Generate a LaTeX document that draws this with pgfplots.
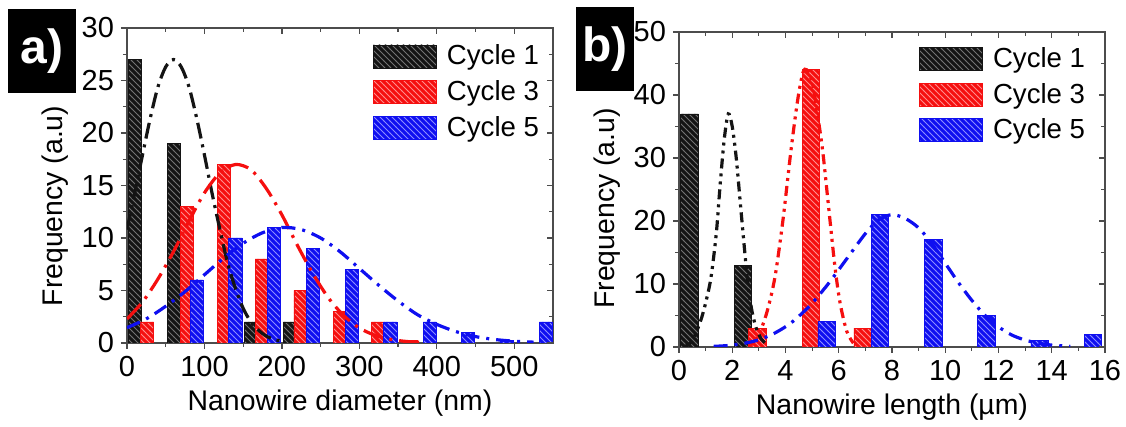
\documentclass[border=0pt]{standalone}
\usepackage{fontspec}
\setmainfont{Liberation Sans}
\usepackage{pgfplots}
\pgfplotsset{compat=1.18}
\usetikzlibrary{patterns}
\definecolor{cred}{RGB}{245,15,15}
\definecolor{cblue}{RGB}{15,15,240}
\definecolor{cblack}{RGB}{20,20,20}
\pgfplotsset{
 patchleg/.style={legend image code/.code={\draw[##1] (0pt,-5.75pt) rectangle (31.5pt,5.75pt);}},
 panel/.style={
  scale only axis, width=213pt, height=157.5pt,
  axis line style={black!70, line width=0.7pt},
  tick style={black!70, line width=0.6pt},
  major tick length=3pt, minor tick length=2pt,
  tick align=outside,
  xtick pos=left, ytick pos=left,
  /pgf/number format/assume math mode=true,
  ticklabel style={font=\fontsize{14.5}{15}\selectfont},
  label style={font=\fontsize{14.2}{15}\selectfont},
  ymin=0, xmin=0,
  minor x tick num=1, minor y tick num=1,
  legend style={draw=none, fill=none, font=\fontsize{13.8}{14}\selectfont, inner sep=0pt, row sep=2.3pt, column sep=3pt, anchor=north west},
  legend cell align=left,
 },
 mirror/.style={
  scale only axis, width=213pt, height=157.5pt,
  axis line style={draw=none},
  tick style={black!70, line width=0.6pt},
  major tick length=3pt, minor tick length=2pt,
  tick align=inside,
  xtick pos=right, ytick pos=right,
  xticklabels={}, yticklabels={},
  ymin=0, xmin=0,
  minor x tick num=1, minor y tick num=1,
 },
 bk/.style={ybar, bar width=#1, bar shift=0pt, draw=cblack, fill=cblack, postaction={pattern=north west lines, pattern color=black!55}, patchleg},
 rd/.style={ybar, bar width=#1, bar shift=0pt, draw=cred, fill=cred, postaction={pattern=north west lines, pattern color=red!45!white}, patchleg},
 bl/.style={ybar, bar width=#1, bar shift=0pt, draw=cblue, fill=cblue, postaction={pattern=north west lines, pattern color=blue!45!white}, patchleg},
}
\begin{document}
\begin{tikzpicture}
\path[use as bounding box] (0,0) rectangle (563pt,213.5pt);
% ---------- panel a ----------
\begin{axis}[panel, at={(63.5pt,42pt)}, anchor=south west,
  xmax=550, ymax=30, xtick={0,100,...,500}, ytick={0,5,...,30},
  xlabel={Nanowire diameter (nm)}, ylabel={Frequency (a.u)},
  ylabel style={at={(ticklabel cs:0.435)}},
  legend style={at={(rel axis cs:0.577,0.96)}}]
\addplot[bk=17] coordinates {(10,27) (61,19) (160,2) (210,2)};
\addlegendentry{Cycle 1}
\addplot[rd=17] coordinates {(26,2) (77,13) (125,17) (174,8) (224,5) (275,3) (324,2) (367,0.25)};
\addlegendentry{Cycle 3}
\addplot[bl=17] coordinates {(90,6) (140,10) (190,11) (240,9) (290,7) (340,2) (391,2) (440,1) (490,0.2) (541,2)};
\addlegendentry{Cycle 5}
\addplot[forget plot, smooth, cblack, line width=1.6pt, dash pattern=on 8pt off 3pt on 1.5pt off 3pt] coordinates {
(0,10.8) (10,14.3) (20,17.9) (30,21.4) (40,24.4) (50,26.3) (60,27) (70,26.3) (80,24.4) (90,21.4) (100,17.9) (110,14.2) (120,10.8) (130,7.6) (140,5.2) (150,3.3) (160,2.0) (170,1.2) (180,0.65) (190,0.34) (200,0.17)};
\addplot[forget plot, smooth, cred, line width=1.6pt, dash pattern=on 10pt off 3.5pt on 1.5pt off 3.5pt] coordinates {
(0,2.3) (20,3.9) (40,6.1) (60,8.7) (80,11.6) (100,14.3) (120,16.2) (140,17.0) (160,16.5) (180,14.7) (200,12.2) (220,9.3) (240,6.6) (260,4.3) (280,2.6) (300,1.43) (320,0.74) (340,0.35) (360,0.15) (380,0.06)};
\addplot[forget plot, smooth, cblue, line width=1.6pt, dash pattern=on 7pt off 3.5pt on 1.5pt off 3.5pt] coordinates {
(0,1.46) (25,2.3) (50,3.5) (75,4.9) (100,6.5) (125,8.1) (150,9.5) (175,10.5) (200,11.0) (225,10.8) (250,10.0) (275,8.7) (300,7.1) (325,5.5) (350,4.0) (375,2.7) (400,1.77) (425,1.08) (450,0.61) (475,0.33) (500,0.17) (525,0.08)};
\end{axis}
\begin{axis}[mirror, at={(63.5pt,42pt)}, anchor=south west,
  xmax=550, ymax=30, xtick={0,100,...,500}, ytick={0,5,...,30}]
\addplot[draw=none] coordinates {(0,0)};
\end{axis}
% ---------- panel b ----------
\begin{axis}[panel, at={(339.5pt,40pt)}, anchor=south west,
  xmax=16, ymax=50, xtick={0,2,...,16}, ytick={0,10,...,50},
  xlabel={Nanowire length (µm)}, ylabel={Frequency (a.u)},
  ylabel style={at={(ticklabel cs:0.44)}},
  legend style={at={(rel axis cs:0.563,0.965)}}]
\addplot[bk=0.66] coordinates {(0.4,37) (2.4,13)};
\addlegendentry{Cycle 1}
\addplot[rd=0.66] coordinates {(2.95,3) (4.95,44) (6.9,3)};
\addlegendentry{Cycle 3}
\addplot[bl=0.66] coordinates {(5.55,4) (7.55,21) (9.55,17) (11.55,5) (13.55,1) (15.55,2)};
\addlegendentry{Cycle 5}
\addplot[forget plot, smooth, cblack, line width=1.6pt, dash pattern=on 5pt off 2.5pt on 1.5pt off 2.5pt on 1.5pt off 2.5pt] coordinates {
(0.2,0) (0.5,1) (0.8,4) (1.0,7) (1.2,11) (1.4,18) (1.55,26) (1.7,33) (1.85,37) (2.0,35) (2.15,30) (2.3,23) (2.45,16) (2.6,9.5) (2.75,5.5) (2.9,3) (3.1,1.2) (3.35,0.3)};
\addplot[forget plot, smooth, cred, line width=1.6pt, dash pattern=on 5pt off 2.5pt on 1.5pt off 2.5pt on 1.5pt off 2.5pt] coordinates {
(2.7,0.3) (3.0,2) (3.3,5.5) (3.6,11) (3.9,20) (4.2,31) (4.45,39) (4.65,43.5) (4.8,44) (5.0,42) (5.2,37) (5.4,31) (5.6,23) (5.85,13) (6.05,7) (6.3,2.5) (6.55,0.6)};
\addplot[forget plot, smooth, cblue, line width=1.6pt, dash pattern=on 7pt off 3.5pt on 1.5pt off 3.5pt] coordinates {
(1.3,0.1) (2,0.3) (2.8,0.9) (3.5,2) (4.2,3.8) (4.9,6.5) (5.6,10) (6.3,14) (7,18) (7.5,20.2) (8,21) (8.5,20.4) (9,18.9) (9.5,16.4) (10,13.3) (10.5,10.2) (11,7.4) (11.5,5) (12,3.2) (12.5,1.9) (13,1.1) (13.5,0.6) (14,0.3) (14.7,0.1)};
\end{axis}
\begin{axis}[mirror, at={(339.5pt,40pt)}, anchor=south west,
  xmax=16, ymax=50, xtick={0,2,...,16}, ytick={0,10,...,50}]
\addplot[draw=none] coordinates {(0,0)};
\end{axis}
% panel labels
\node[fill=black, text=white, font=\bfseries\fontsize{24}{24}\selectfont, minimum width=34pt, minimum height=42pt, inner sep=0pt] at (21pt,188pt) {a)};
\node[fill=black, text=white, font=\bfseries\fontsize{24}{24}\selectfont, minimum width=29pt, minimum height=42pt, inner sep=0pt] at (302.5pt,189pt) {b)};
\end{tikzpicture}
\end{document}
